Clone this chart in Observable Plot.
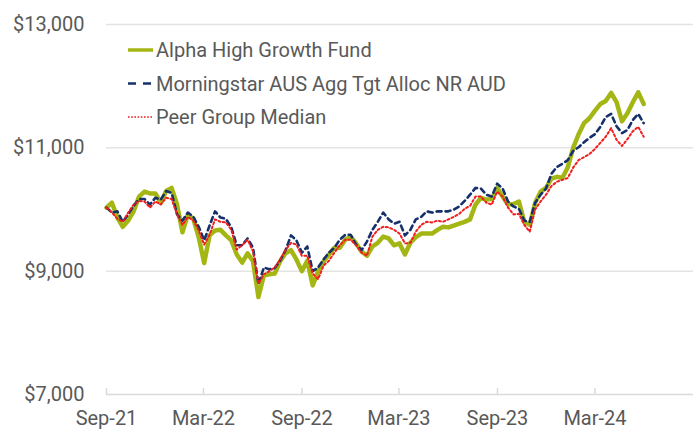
<!DOCTYPE html>
<html><head><meta charset="utf-8">
<script src="https://cdn.jsdelivr.net/npm/d3@7"></script>
<script src="https://cdn.jsdelivr.net/npm/@observablehq/plot@0.6"></script>
<style>html,body{margin:0;padding:0;background:#fff;}</style>
</head><body><div id="chart"></div>
<script>
const seriesNames = ["Alpha High Growth Fund", "Morningstar AUS Agg Tgt Alloc NR AUD", "Peer Group Median"];
const seriesColors = ["#a4b614", "#15306b", "#f21d1d"];

const alpha = [
10030,10110,9870,9720,9820,9970,10210,10290,10260,10260,
10110,10300,10350,10080,9630,9920,9850,9550,9130,9580,
9660,9670,9580,9500,9270,9140,9290,9160,8580,8930,
8950,8960,9160,9290,9340,9190,9000,9170,8770,9000,
9160,9270,9380,9380,9510,9560,9450,9320,9250,9400,
9460,9560,9530,9420,9450,9270,9460,9550,9610,9610,
9610,9670,9720,9710,9740,9770,9800,9840,10080,10190,
10160,10170,10350,10210,10080,10090,10130,9800,9750,10110,
10290,10350,10500,10530,10510,10680,11000,11220,11400,11480,
11600,11710,11760,11890,11740,11430,11560,11740,11900,11710];

const morningstar = [
10030,9950,9970,9800,9920,10060,10170,10170,10080,10190,
10160,10300,10270,9920,9820,9950,9880,9720,9500,9740,
9970,9870,9850,9710,9420,9420,9530,9380,8790,9060,
9030,9050,9170,9340,9580,9500,9300,9400,9000,9060,
9190,9300,9380,9510,9590,9590,9430,9340,9480,9670,
9800,9950,9840,9770,9800,9580,9670,9840,9880,9970,
9950,9970,9970,9970,10000,10050,10140,10240,10350,10340,
10240,10210,10420,10340,10130,10050,10010,9820,9800,10110,
10240,10340,10580,10690,10740,10800,10950,11010,11090,11160,
11220,11340,11500,11550,11350,11240,11290,11450,11550,11400];

const peer = [
10030,9950,9850,9800,9950,10080,10140,10130,10030,10130,
10080,10190,10170,9920,9750,9880,9820,9660,9430,9590,
9840,9800,9790,9670,9350,9420,9510,9320,8800,8950,
9000,9060,9190,9340,9460,9430,9250,9250,8960,8870,
9090,9170,9300,9420,9510,9510,9420,9300,9250,9560,
9670,9720,9710,9670,9610,9450,9460,9640,9750,9800,
9790,9820,9800,9840,9880,9930,10010,10060,10210,10210,
10110,10080,10290,10210,10030,9920,9930,9750,9640,10000,
10130,10240,10380,10450,10480,10510,10680,10800,10850,10900,
10980,11080,11180,11320,11130,11030,11140,11270,11340,11180];

const firstDate = "2021-09-01", lastDate = "2024-05-31";
const axisDomain = ["2021-09-01", "2024-09-01"];
const xTicks = ["2021-09-01","2022-03-01","2022-09-01","2023-03-01","2023-09-01","2024-03-01"];
const yTicks = [7000, 9000, 11000, 13000];

const t0 = Date.parse(firstDate), t1 = Date.parse(lastDate);
const n = alpha.length;
const dates = alpha.map((_, i) => new Date(t0 + i * (t1 - t0) / (n - 1)));
const mk = (arr) => arr.map((v, i) => ({date: dates[i], value: v}));

const W = 696, H = 438, mL = 106, mR = 3, mT = 24, mB = 44;
const chart = Plot.plot({
  width: W, height: H, marginLeft: mL, marginRight: mR, marginTop: mT, marginBottom: mB,
  style: {fontFamily: "Roboto, sans-serif", fontSize: "20px", color: "#595959", background: "#fff", overflow: "visible"},
  x: {type: "utc", domain: axisDomain.map(d => new Date(d)), label: null},
  y: {domain: [yTicks[0], yTicks[yTicks.length - 1]], label: null},
  marks: [
    Plot.ruleY(yTicks.slice(1), {stroke: "#e4e4e4", strokeWidth: 1.5}),
    Plot.ruleY([yTicks[0]], {stroke: "#dadada", strokeWidth: 1.5}),
    Plot.ruleX(xTicks.map(d => new Date(d)), {stroke: "#dadada", strokeWidth: 1.5, insetTop: H - mT - mB - 6}),
    Plot.axisY(yTicks, {tickSize: 0, tickPadding: 22, tickFormat: d => "$" + d3.format(",")(d), fontSize: 20}),
    Plot.axisX(xTicks.map(d => new Date(d)), {tickSize: 0, tickPadding: 16, tickFormat: d3.utcFormat("%b-%y"), fontSize: 20}),
    Plot.lineY(mk(alpha), {x: "date", y: "value", stroke: seriesColors[0], strokeWidth: 4.5, strokeLinejoin: "round"}),
    Plot.lineY(mk(morningstar), {x: "date", y: "value", stroke: seriesColors[1], strokeWidth: 2.6, strokeDasharray: "5,4"}),
    Plot.lineY(mk(peer), {x: "date", y: "value", stroke: seriesColors[2], strokeWidth: 2, strokeDasharray: "2,2.5"})
  ]
});
document.getElementById("chart").appendChild(chart);

// legend inside plot
const legendStyles = [
  {width: 3.5, dash: null},
  {width: 2.5, dash: "8,7"},
  {width: 1.6, dash: "1.6,1.6"}
];
const leg = d3.select(chart).append("g")
  .attr("font-family", "Roboto, sans-serif").attr("font-size", 20).attr("fill", "#595959")
  .attr("text-anchor", "start");
seriesNames.forEach((name, k) => {
  const y = 50 + k * 33.5;
  leg.append("line").attr("x1", 128).attr("x2", 153).attr("y1", y).attr("y2", y)
    .attr("stroke", seriesColors[k]).attr("stroke-width", legendStyles[k].width)
    .attr("stroke-dasharray", legendStyles[k].dash);
  leg.append("text").attr("x", 156).attr("y", y).attr("dy", "0.35em").attr("text-anchor", "start").text(name);
});
</script>
</body></html>
